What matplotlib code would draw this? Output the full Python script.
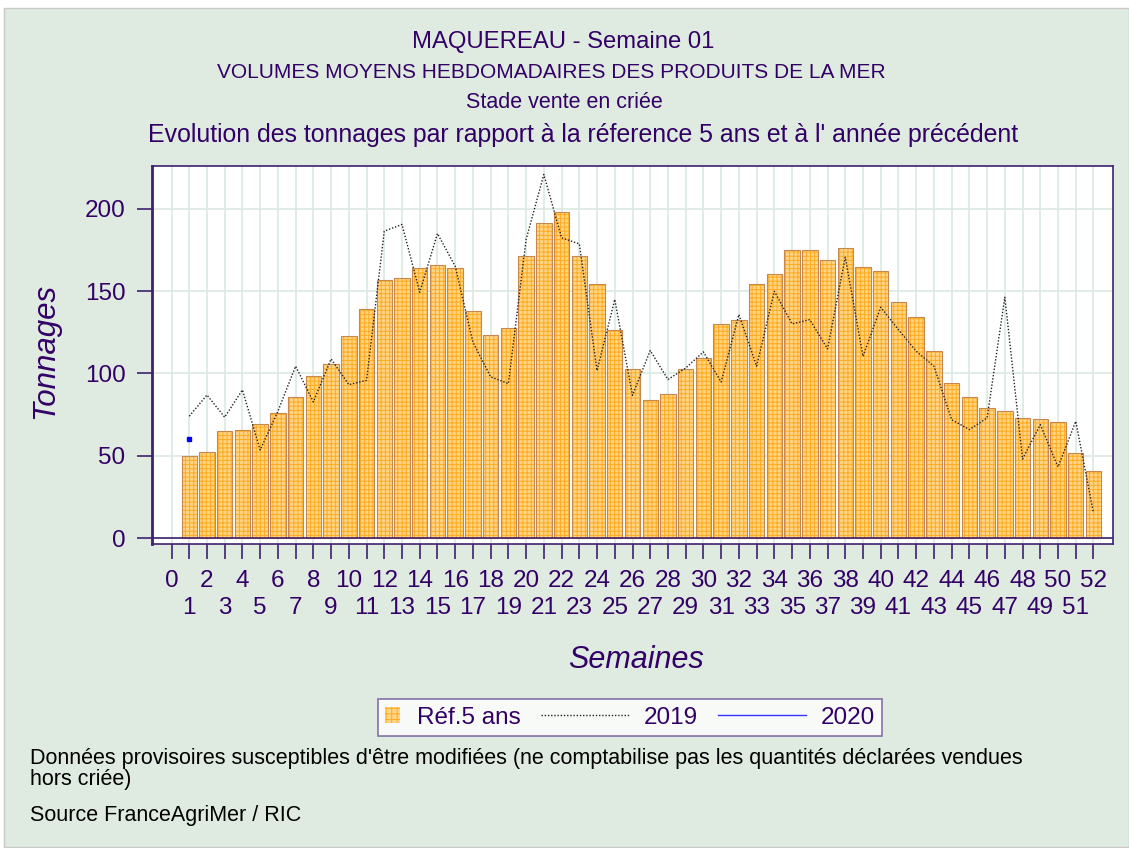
#!/usr/bin/env python
"""Volumes hebdomadaires de maquereau: reference 5 ans, 2019 et 2020."""
import matplotlib
matplotlib.use('Agg')
import matplotlib.pyplot as plt
from matplotlib.legend_handler import HandlerPatch
from matplotlib.lines import Line2D
from matplotlib.patches import Patch, Rectangle


WEEKS = list(range(1, 53))
REF_5ANS = [50.0, 52.5, 65.0, 65.9, 69.5, 76.2, 85.9, 98.7, 105.6, 123.0,
            139.2, 157.0, 158.1, 164.3, 165.6, 164.3, 138.2, 123.6, 127.3, 171.6,
            191.5, 197.8, 171.6, 154.6, 126.6, 102.9, 84.1, 87.7, 102.9, 109.6,
            130.3, 132.7, 154.6, 160.7, 174.7, 174.7, 169.2, 175.9, 164.9, 162.5,
            143.1, 134.5, 113.9, 94.4, 85.9, 79.2, 77.4, 73.2, 72.5, 70.7,
            51.9, 40.9]
Y2019 = [74.0, 86.9, 73.4, 90.0, 53.5, 77.0, 104.4, 82.7, 108.8, 93.2,
         95.8, 186.4, 190.5, 149.3, 185.0, 165.1, 119.0, 97.9, 93.8, 181.4,
         220.9, 182.4, 178.7, 101.7, 144.9, 86.7, 113.9, 96.3, 103.3, 113.1,
         94.8, 135.8, 104.4, 149.9, 130.1, 132.7, 114.9, 170.6, 110.4, 140.2,
         126.6, 113.5, 104.4, 71.9, 65.9, 73.0, 146.3, 48.0, 68.9, 43.2,
         70.9, 15.2]
WEEKS_2020 = [1]
Y2020 = [60.0]

TICKS_X_EVEN = list(range(0, 53, 2))
TICKS_X_ODD = list(range(1, 53, 2))
TICKS_Y = [0, 50, 100, 150, 200]

TITLES = [
    ('MAQUEREAU - Semaine 01', 563, 42, 17.2),
    ('VOLUMES MOYENS HEBDOMADAIRES DES PRODUITS DE LA MER', 551, 72, 15),
    ('Stade vente en criée', 564, 102, 15.5),
    ("Evolution des tonnages par rapport à la réference 5 ans et à l' année "
     "précédent", 583, 135, 17.9),
]
NOTE = ("Données provisoires susceptibles d'être modifiées (ne comptabilise "
        "pas les quantités déclarées vendues\nhors criée)")
SOURCE = 'Source FranceAgriMer / RIC'

PURPLE = '#330066'
SPINE = '#3f2170'
BG = '#dfebe1'
GRID = '#dde9e2'
BAR_FACE = '#ffd485'
BAR_HATCH = '#ffab1f'
BAR_EDGE = '#c48850'

W, H = 1129, 848


class SquareHandler(HandlerPatch):
    """Small square legend key that takes less room than the line keys."""

    def legend_artist(self, legend, orig_handle, fontsize, handlebox):
        handlebox.width = 0.7 * fontsize
        return super().legend_artist(legend, orig_handle, fontsize, handlebox)

    def create_artists(self, legend, orig_handle, xdescent, ydescent, width,
                       height, fontsize, trans):
        s = 0.62 * fontsize
        p = Rectangle((0, (height - s) / 2 - ydescent), s, s)
        self.update_prop(p, orig_handle, legend)
        p.set_transform(trans)
        return [p]


def main():
    plt.rcParams['font.family'] = ['Liberation Sans', 'DejaVu Sans']
    plt.rcParams['hatch.linewidth'] = 0.7

    fig = plt.figure(figsize=(W / 100, H / 100), dpi=100)
    fig.patch.set_facecolor('white')
    fig.add_artist(Rectangle((4 / W, 1 / H), (W - 4) / W, (H - 9) / H,
                             transform=fig.transFigure, facecolor=BG,
                             edgecolor='#c8c8c8', lw=1, zorder=-10))

    ax = fig.add_axes([152 / W, 1 - 544 / H, (1113 - 152) / W,
                       (544 - 166) / H])
    ax.set_facecolor('white')

    # Bars: fill, hatch grid, then outline.
    ax.bar(WEEKS, REF_5ANS, width=0.87, color=BAR_FACE, lw=0, zorder=2)
    ax.bar(WEEKS, REF_5ANS, width=0.87, facecolor='none',
           edgecolor=BAR_HATCH, hatch='++++', lw=0, zorder=2.1)
    ax.bar(WEEKS, REF_5ANS, width=0.87, facecolor='none',
           edgecolor=BAR_EDGE, lw=0.8, zorder=2.2)

    ax.plot(WEEKS, Y2019, color='#222222', lw=1, ls=(0, (1, 1.3)), zorder=3)
    ax.plot(WEEKS_2020, Y2020, color='#0000ff', lw=1, marker='s', ms=2.2,
            zorder=3)
    ax.axhline(0, color=SPINE, lw=1.2, zorder=2.5)

    ax.set_xlim(-1.1, 53.1)
    ax.set_ylim(-3.6, 226)
    ax.set_yticks(TICKS_Y)
    # Even weeks on the first row, odd weeks on a second row below.
    ax.set_xticks(TICKS_X_EVEN)
    ax.set_xticks(TICKS_X_ODD, minor=True)
    ax.set_xticklabels([str(t) for t in TICKS_X_EVEN])
    ax.set_xticklabels([str(t) for t in TICKS_X_ODD], minor=True)
    ax.grid(True, which='both', color=GRID, lw=1.2, zorder=0)
    ax.set_axisbelow(True)

    for sp in ax.spines.values():
        sp.set_color(SPINE)
        sp.set_linewidth(1.2)
    ax.spines['left'].set_linewidth(2)
    ax.tick_params(axis='y', colors=SPINE, length=11, width=1.2, pad=8,
                   labelsize=17.5, labelcolor=PURPLE)
    ax.tick_params(axis='x', which='major', colors=SPINE, length=11,
                   width=1.2, pad=8, labelsize=17.5, labelcolor=PURPLE)
    ax.tick_params(axis='x', which='minor', colors=SPINE, length=11,
                   width=1.2, pad=27, labelsize=17.5, labelcolor=PURPLE)

    ax.set_xlabel('Semaines', fontsize=22, style='italic', color=PURPLE)
    ax.xaxis.label.set_va('center')
    ax.xaxis.set_label_coords((636 - 152) / 961, (544 - 660) / 378)
    ax.set_ylabel('Tonnages', fontsize=22.5, style='italic', color=PURPLE)
    ax.yaxis.label.set_va('center')
    ax.yaxis.set_label_coords((45 - 152) / 961, (544 - 351) / 378)

    for text, x, y, size in TITLES:
        fig.text(x / W, 1 - y / H, text, ha='center', va='center',
                 fontsize=size, color=PURPLE)

    handles = [Patch(facecolor=BAR_FACE, edgecolor=BAR_HATCH, hatch='+++',
                     lw=0),
               Line2D([], [], color='#222222', lw=1, ls=(0, (1, 1.3))),
               Line2D([], [], color='#3333ff', lw=1)]
    leg = fig.legend(handles, ['Réf.5 ans', '2019', '2020'], ncol=3,
                     loc='center', bbox_to_anchor=(630 / W, 1 - 717.5 / H),
                     fontsize=17.5, frameon=True, fancybox=False,
                     borderpad=0.3, handlelength=3.6, handletextpad=0.6,
                     columnspacing=0.85, labelcolor=PURPLE,
                     handler_map={Patch: SquareHandler()})
    leg.get_frame().set_edgecolor('#6b4f96')
    leg.get_frame().set_linewidth(1.2)

    fig.text(30 / W, 1 - 748 / H, NOTE, ha='left', va='top', fontsize=15.5,
             color='black', linespacing=1.0)
    fig.text(30 / W, 1 - 815 / H, SOURCE, ha='left', va='center',
             fontsize=15.5, color='black')

    fig.savefig('out.png', dpi=100, facecolor=fig.get_facecolor())


if __name__ == '__main__':
    main()
